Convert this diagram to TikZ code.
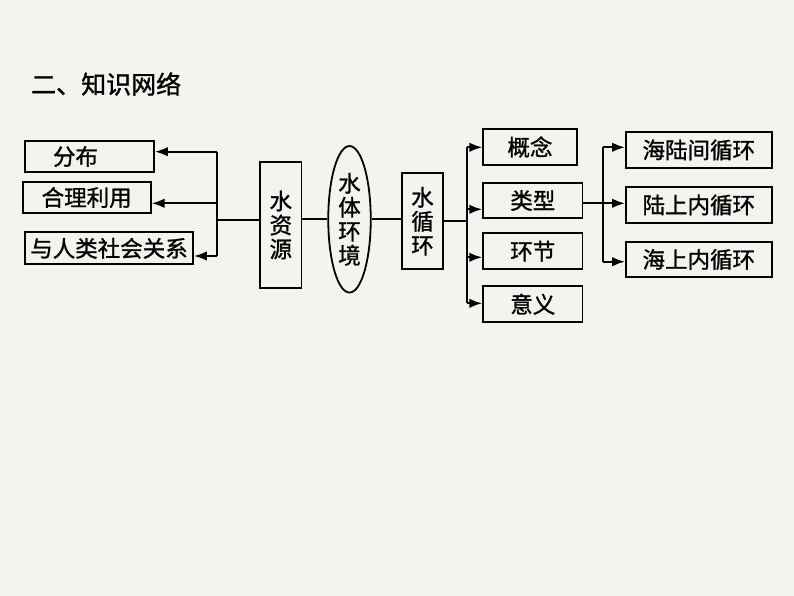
\documentclass[tikz,border=0pt]{standalone}
\usepackage{fontspec}
\setmainfont{Noto Sans CJK SC}[FakeBold=1.2]
\usetikzlibrary{arrows.meta,shapes.geometric,calc}
\definecolor{bgpage}{RGB}{242,244,238}

\begin{document}
\begin{tikzpicture}[x=1pt,y=-1pt,
    box/.style={draw,line width=1.8pt,inner sep=0pt,font=\fontsize{22.5}{24}\selectfont},
    link/.style={line width=2pt},
    arr/.style={line width=2pt,-{Latex[length=13pt,width=9.5pt]}}]
      \fill[bgpage] (0,0) rectangle (794,596);
      \useasboundingbox (0,0) rectangle (794,596);
      \node[anchor=west,inner sep=0pt,font=\fontsize{25}{28}\selectfont] (title) at (31,84) {二、知识网络};
      % left side
      \node[box,minimum width=129pt,minimum height=31pt] (fb) at (89.5,156.5) {\hspace*{-28pt}分布};
      \node[box,minimum width=128pt,minimum height=31.5pt] (hl) at (86.7,197.5) {合理利用};
      \node[box,minimum width=168pt,minimum height=32pt] (yr) at (109,248.3) {与人类社会关系};
      \node[box,minimum width=41.5pt,minimum height=126pt,align=center] (zy) at (280.8,225) {水\\资\\源};
      \node[box,ellipse,minimum width=42.5pt,minimum height=146.5pt,align=center] (ht) at (349.5,219.3) {水\\体\\环\\境};
      \node[box,minimum width=41.5pt,minimum height=96pt,align=center] (xh) at (422.5,221.3) {水\\循\\环};
      % right side
      \node[box,minimum width=93.5pt,minimum height=36pt] (gn) at (530,147) {概念};
      \node[box,minimum width=99.3pt,minimum height=35.6pt] (lx) at (532.8,200.5) {类型};
      \node[box,minimum width=99.3pt,minimum height=35.7pt] (hj) at (532.8,251.2) {环节};
      \node[box,minimum width=99.3pt,minimum height=36.3pt] (yy) at (532.8,304.2) {意义};
      \node[box,minimum width=145.7pt,minimum height=36.6pt] (hlj) at (698.8,150) {海陆间循环};
      \node[box,minimum width=145.7pt,minimum height=36.6pt] (lsn) at (698.8,205) {陆上内循环};
      \node[box,minimum width=145.7pt,minimum height=35.6pt] (hsn) at (698.8,259.5) {海上内循环};
      % buses
      \coordinate (lt) at (217.3,151.7);
      \coordinate (lm1) at (217.3,203.3);
      \coordinate (lb) at (217.3,256);
      \coordinate (lj) at (217.3,220);
      \coordinate (mt) at (466.7,147.3);
      \coordinate (mj) at (466.7,221);
      \coordinate (m1) at (466.7,209.3);
      \coordinate (m2) at (466.7,257.3);
      \coordinate (mb) at (466.7,303.3);
      \coordinate (rt) at (602.7,147.3);
      \coordinate (rj) at (602.7,203.3);
      \coordinate (rb) at (602.7,261.7);
      \draw[link] (lt) -- (lb);
      \draw[link] (zy.west |- lj) -- (lj);
      \draw[arr] (lt) -- (fb.east |- lt);
      \draw[arr] (lm1) -- (hl.east |- lm1);
      \draw[arr] (lb) -- (yr.east |- lb);
      \draw[link] (zy.east |- ht) -- (ht.west);
      \draw[link] (ht.east) -- (xh.west |- ht);
      \draw[link] (xh.east |- mj) -- (mj);
      \draw[link] (mt) -- (mb);
      \draw[arr] (mt) -- (gn.west |- mt);
      \draw[arr] (m1) -- (lx.west |- m1);
      \draw[arr] (m2) -- (hj.west |- m2);
      \draw[arr] (mb) -- (yy.west |- mb);
      \draw[link] (lx.east |- rj) -- (rj);
      \draw[link] (rt) -- (rb);
      \draw[arr] (rt) -- (hlj.west |- rt);
      \draw[arr] (rj) -- (lsn.west |- rj);
      \draw[arr] (rb) -- (hsn.west |- rb);
    \end{tikzpicture}
\end{document}
